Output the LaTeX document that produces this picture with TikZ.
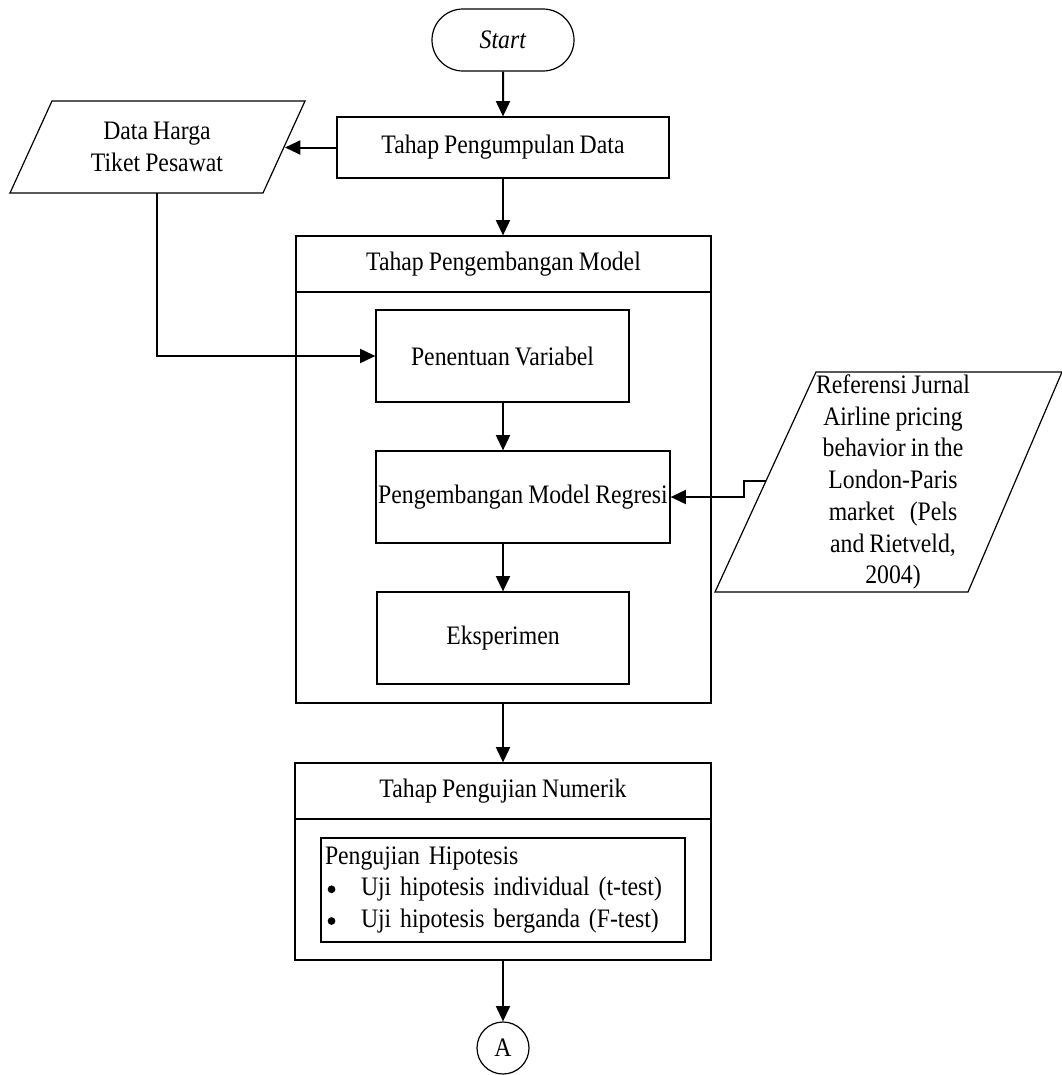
\documentclass[tikz,border=0pt]{standalone}
\usepackage{fontspec}
\setmainfont{Liberation Serif}[FakeStretch=0.89,WordSpace=0.85]
\usetikzlibrary{arrows.meta,shapes.misc,calc}
\newcommand{\bigdot}{\tikz[baseline=-5pt]\fill (0,0) circle (2.9pt);}
\begin{document}
\begin{tikzpicture}[x=0.75pt,y=-0.75pt,
  every node/.style={font=\fontsize{20}{23.8}\selectfont},
  box/.style={draw,line width=0.9pt,rectangle,inner sep=0pt},
  term/.style={draw,line width=0.9pt,rounded rectangle,inner sep=0pt},
  para/.style={draw,line width=0.9pt},
  conn/.style={line width=1.5pt,-{Triangle[length=11.5pt,width=10.5pt]}},
  plain/.style={line width=1.5pt}]
\useasboundingbox (0,0) rectangle (1062,1075);

% Start
\node[term,minimum width=106.5pt,minimum height=46.5pt] (start) at (503,40) {\textit{Start}};
% Pengumpulan
\node[box,minimum width=249pt,minimum height=45.75pt] (kumpul) at (503,147.5) {Tahap Pengumpulan Data};

% Data Harga parallelogram
\draw[para] (52,101) -- (305,101) -- (263,193) -- (10,193) -- cycle;
\node[align=center] (data) at (157,147) {Data Harga\\Tiket Pesawat};
\coordinate (dataR) at (285,147.5);
\coordinate (dataB) at (157,193);

% Pengembangan container
\node[box,minimum width=311.25pt,minimum height=350.25pt] (cont1) at (503.5,469.5) {};
\node[box,minimum width=311.25pt,minimum height=42pt] (head1) at (503.5,264) {Tahap Pengembangan Model};
\node[box,minimum width=189.75pt,minimum height=69pt] (tentu) at (502.5,356) {Penentuan Variabel};
\node[box,minimum width=220.5pt,minimum height=69pt] (regresi) at (523,497) {Pengembangan Model Regresi};
\node[box,minimum width=189pt,minimum height=69pt] (eksp) at (503,638) {Eksperimen};

% Referensi parallelogram
\draw[para] (816,372) -- (1062,372) -- (968,592) -- (715,592) -- cycle;
\node[align=center] (ref) at (893,482) {Referensi Jurnal\\ Airline pricing\\behavior in the\\London-Paris\\market\ \ \ (Pels\\and Rietveld,\\2004)};
\coordinate (refL) at (766,481);

% Pengujian container
\node[box,minimum width=312pt,minimum height=147.75pt] (cont2) at (503,861.5) {};
\node[box,minimum width=312pt,minimum height=42pt] (head2) at (503,791) {Tahap Pengujian Numerik};
\node[box,minimum width=273pt,minimum height=78pt,inner xsep=3pt,text width=267pt,align=left] (uji) at (503,890)
 {Pengujian Hipotesis\\
  \makebox[27pt][l]{\hspace{2pt}\bigdot}Uji hipotesis individual (t-test)\\
  \makebox[27pt][l]{\hspace{2pt}\bigdot}Uji hipotesis berganda (F-test)};

% Connector A
\node[draw,line width=0.9pt,circle,minimum size=39pt,inner sep=0pt] (A) at (503,1048) {A};

% Connectors
\draw[conn] (start) -- (kumpul);
\draw[conn] (kumpul.west) -- (dataR);
\draw[conn] (kumpul.south) -- (kumpul.south |- head1.north);
\draw[conn] (dataB) |- (tentu.west);
\draw[conn] (regresi.north -| eksp.north) ++(0,-49) -- (regresi.north -| eksp.north);
\draw[conn] (eksp.north |- regresi.south) -- (eksp.north);
\draw[conn] (refL) -- (744,481) -- (744,497) -- (regresi.east);
\draw[conn] (cont1.south -| cont2.north) -- (head2.north);
\draw[conn] (cont2.south) -- (A.north);
\end{tikzpicture}
\end{document}
